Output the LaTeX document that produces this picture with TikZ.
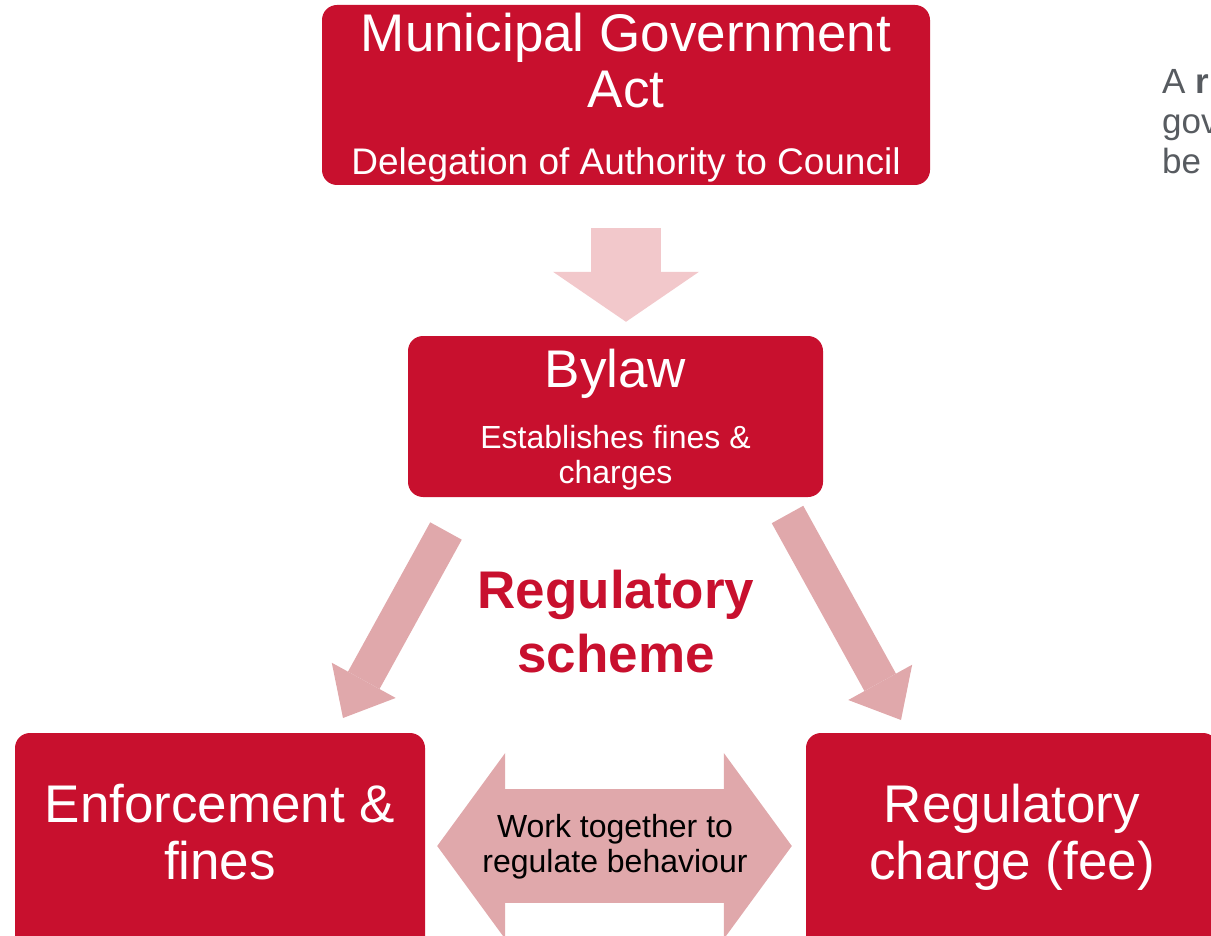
\documentclass[tikz,border=0pt]{standalone}
\usepackage{fontspec}
\setmainfont{Liberation Sans}
\usetikzlibrary{positioning, arrows.meta}

\definecolor{boxred}{RGB}{200,16,46}
\definecolor{palepink}{RGB}{242,200,203}
\definecolor{dullpink}{RGB}{224,168,171}
\definecolor{notegrey}{RGB}{87,91,96}

\tikzset{
  redbox/.style={rectangle, rounded corners=15pt, fill=boxred, inner sep=0pt},
  bigtxt/.style={text=white, font=\fontsize{53}{57}\selectfont, align=center, inner sep=0pt},
  smalltxt/.style={font=\fontsize{32}{35}\selectfont, align=center, inner sep=0pt},
  downarrow/.style={draw=palepink, line width=70pt, -{Triangle[width=146pt, length=50pt, line width=0pt]}},
  slantarrow/.style={draw=dullpink, line width=36pt, -{Triangle[width=73pt, length=43pt, line width=0pt]}},
  twoway/.style={draw=dullpink, line width=114pt,
    {Triangle[width=186pt, length=68pt, line width=0pt]}-{Triangle[width=186pt, length=68pt, line width=0pt]}},
}

\begin{document}
\begin{tikzpicture}[x=1pt, y=-1pt]
  \useasboundingbox (0,0) rectangle (1211,936);

  \node[redbox, minimum width=608pt, minimum height=180pt] (act) at (626,95) {};
  \node[redbox, minimum width=415pt, minimum height=161pt] (bylaw) at (615.5,416.5) {};
  \node[redbox, minimum width=410pt, minimum height=226pt] (fines) at (220,846) {};
  \node[redbox, minimum width=412pt, minimum height=226pt] (charge) at (1012,846) {};

  % base anchor sits on the last line
  \node[bigtxt, anchor=base] (acttitle) at (626,108) {Municipal Government\\[-1pt]Act};
  \node[smalltxt, text=white, font=\fontsize{37}{40}\selectfont, anchor=base] (actsub) at (626,175) {Delegation of Authority to Council};
  \node[bigtxt, anchor=base] (bylawtitle) at (615.5,387) {Bylaw};
  \node[smalltxt, text=white, anchor=base] (bylawsub) at (615.5,483) {Establishes fines \&\\charges};
  \node[bigtxt, anchor=base] (finestxt) at (220,879) {Enforcement \&\\fines};
  \node[bigtxt, anchor=base] (chargetxt) at (1012,879) {Regulatory\\charge (fee)};

  \node[text=boxred, font=\bfseries\fontsize{53}{64}\selectfont, align=center, inner sep=0pt, anchor=base]
    (scheme) at (616,672) {Regulatory\\scheme};

  \coordinate (lfrom) at (446,531);
  \coordinate (lto) at (343,718);
  \coordinate (rfrom) at (787.5,514.5);
  \coordinate (rto) at (901,720);

  \draw[downarrow, shorten <=43pt, shorten >=14pt] (act.south) -- (act.south |- bylaw.north);
  \draw[slantarrow] (lfrom) -- (lto);
  \draw[slantarrow] (rfrom) -- (rto);
  \draw[twoway, shorten <=12pt, shorten >=14pt] (fines) -- (charge);

  \node[smalltxt, anchor=base] (together) at (615,872) {Work together to\\regulate behaviour};

  \node[text=notegrey, font=\fontsize{35}{40}\selectfont, align=left, inner sep=0pt, anchor=base west]
    (note) at (1162,174) {A \textbf{r}\\gov\\be};
\end{tikzpicture}
\end{document}
